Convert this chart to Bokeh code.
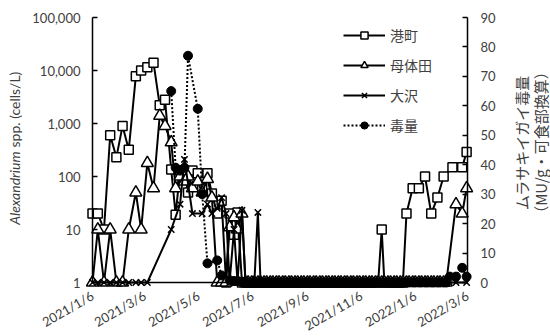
from math import pi

import pandas as pd
from bokeh.embed import file_html
from bokeh.models import (ColumnDataSource, FixedTicker, Label, Legend, LegendItem,
                          LinearAxis, LinearScale, NumeralTickFormatter, Range1d)
from bokeh.plotting import figure
from bokeh.resources import INLINE

# ---- data -------------------------------------------------------------------
# sampling dates shared by all series (None = no sample for that series)
dates = [
    "2021-01-06", "2021-01-12", "2021-01-19", "2021-01-26",
    "2021-02-02", "2021-02-09", "2021-02-16", "2021-02-24",
    "2021-03-02", "2021-03-09", "2021-03-16", "2021-03-23", "2021-03-29",
    "2021-04-05", "2021-04-10", "2021-04-15", "2021-04-20", "2021-04-24", "2021-04-29",
    "2021-05-05", "2021-05-10", "2021-05-16", "2021-05-21", "2021-05-27",
    "2021-06-01", "2021-06-06", "2021-06-10", "2021-06-15", "2021-06-19", "2021-06-24",
    "2021-06-28",
    "2021-07-01", "2021-07-05", "2021-07-08", "2021-07-12", "2021-07-15", "2021-07-19", "2021-07-22", "2021-07-26", "2021-07-29",
    "2021-08-02", "2021-08-05", "2021-08-09", "2021-08-12", "2021-08-16", "2021-08-19", "2021-08-23", "2021-08-26", "2021-08-30",
    "2021-09-02", "2021-09-06", "2021-09-09", "2021-09-13", "2021-09-16", "2021-09-20", "2021-09-23", "2021-09-27", "2021-09-30",
    "2021-10-04", "2021-10-07", "2021-10-11", "2021-10-14", "2021-10-18", "2021-10-21", "2021-10-25", "2021-10-28",
    "2021-11-01", "2021-11-04", "2021-11-08", "2021-11-11", "2021-11-15", "2021-11-18", "2021-11-22", "2021-11-25", "2021-11-29",
    "2021-12-02", "2021-12-06", "2021-12-09", "2021-12-13", "2021-12-16", "2021-12-20", "2021-12-23", "2021-12-27", "2021-12-30",
    "2022-01-03", "2022-01-06", "2022-01-10", "2022-01-13", "2022-01-17", "2022-01-20", "2022-01-24", "2022-01-27", "2022-01-31",
    "2022-02-03", "2022-02-07", "2022-02-10", "2022-02-14", "2022-02-17", "2022-02-21", "2022-02-24", "2022-02-28",
    "2022-03-05",
]

# Alexandrium cell density (cells/L)
minato = [
    20, 20, 10, 600,
    230, 900, 320, 7800,
    10000, 11500, 14000, 2200, 2800,
    135, 19, 130, 120, 50, 130,
    115, 60, 115, 48, 20,
    35, 1, 20, 8, 21, 1,
    1,
    1, 1, 1, 1, 1, 1, 1, 1, 1,
    1, 1, 1, 1, 1, 1, 1, 1, 1,
    1, 1, 1, 1, 1, 1, 1, 1, 1,
    1, 1, 1, 1, 1, 1, 1, 1,
    1, 1, 1, 1, 1, 1, 1, 1, 10,
    1, 1, 1, 1, 1, 1, 1, 20, None,
    60, None, 60, None, 100, None, 20, None, 40,
    None, 100, None, None, 150, None, None, 150,
    290,
]
botaida = [
    1, 10, 1, 10,
    1, 1, 10, 50,
    10, 180, 60, 1400, 900,
    440, 60, 100, 80, 100, 60,
    80, 50, 90, 40, 1,
    1, 1, 11, 17, 10, 20,
    1,
    1, 1, 1, 1, 1, 1, 1, 1, 1,
    1, 1, 1, 1, 1, 1, 1, 1, 1,
    1, 1, 1, 1, 1, 1, 1, 1, 1,
    1, 1, 1, 1, 1, 1, 1, 1,
    1, 1, 1, 1, 1, 1, 1, 1, 1,
    1, 1, 1, 1, 1, 1, 1, 1, 1,
    1, 1, 1, 1, 1, 1, 1, 1, 1,
    1, 1, 1, None, None, 30, None, 20,
    60,
]
osawa = [
    1, 1, 1, 1,
    1, 1, 1, 1,
    1, 1, None, None, None,
    10, None, 30, 210, None, 20,
    None, 20, 30, 20, 25,
    40, 20, 1, 10, 1, 23,
    1,
    1, 1, 1, 21, 1, 1, 1, 1, 1,
    1, 1, 1, 1, 1, 1, 1, 1, 1,
    1, 1, 1, 1, 1, 1, 1, 1, 1,
    1, 1, 1, 1, 1, 1, 1, 1,
    1, 1, 1, 1, 1, 1, 1, 1, 1,
    1, 1, 1, 1, 1, 1, 1, 1, 1,
    1, 1, 1, 1, 1, 1, 1, 1, 1,
    1, 1, 1, None, None, 1, None, None,
    1,
]
# mussel toxicity (MU/g, edible part)
toxin = [
    None, None, None, None,
    None, None, None, None,
    None, None, None, None, None,
    65, 39, 38, 39, 77, None,
    59, 30, 6.5, None, 7.5,
    2.4, None, 0.8, 0.5, 0.5, 0.3,
    0,
    0, 0, 0, 0, 0, 0, 0, 0, 0,
    0, 0, 0, 0, 0, 0, 0, 0, 0,
    0, 0, 0, 0, 0, 0, 0, 0, 0,
    0, 0, 0, 0, 0, 0, 0, 0,
    0, 0, 0, 0, 0, 0, 0, 0, 0,
    0, 0, 0, 0, 0, 0, 0, 0, 0,
    0, 0, 0, 0, 0, 0, 0, 0, 0,
    0, 0, 0, 2, None, 2, None, 5,
    2,
]

series_names = ["港町", "母体田", "大沢", "毒量"]
cell_ticks = [1, 10, 100, 1000, 10000, 100000]
toxin_ticks = [0, 10, 20, 30, 40, 50, 60, 70, 80, 90]
date_ticks = ["2021-01-06", "2021-03-06", "2021-05-06", "2021-07-06",
              "2021-09-06", "2021-11-06", "2022-01-06", "2022-03-06"]
date_tick_labels = ["2021/1/6", "2021/3/6", "2021/5/6", "2021/7/6",
                    "2021/9/6", "2021/11/6", "2022/1/6", "2022/3/6"]

# ---- layout -----------------------------------------------------------------
# The frame fills the whole canvas; the axes are pinned inside it with
# fixed_location so nothing near the axis box gets clipped.
W, H = 550, 336
AX_L, AX_R, AX_T, AX_B = 92, 467, 17, 282   # axis box on the canvas
TEXT = "#404040"
FONT = "Lato"
JP = "Noto Sans CJK JP"


def ms(d):
    return pd.Timestamp(d).value / 1e6


x0, x1 = ms(date_ticks[0]), ms(date_ticks[-1])
px_per_ms = (AX_R - AX_L) / (x1 - x0)
px_per_decade = (AX_B - AX_T) / 5.0
px_per_unit = (AX_B - AX_T) / 90.0

x_range = Range1d(x0 - AX_L / px_per_ms, x1 + (W - AX_R) / px_per_ms)
y_range = Range1d(10 ** (-(H - AX_B) / px_per_decade), 10 ** (5 + AX_T / px_per_decade))

p = figure(width=W, height=H, x_range=x_range, y_range=y_range,
           x_axis_type="datetime", y_axis_type="log",
           output_backend="svg", toolbar_location=None,
           min_border_left=0, min_border_right=0,
           min_border_top=0, min_border_bottom=0)
p.extra_y_ranges = {"toxin": Range1d(-(H - AX_B) / px_per_unit, 90 + AX_T / px_per_unit)}
p.extra_y_scales = {"toxin": LinearScale()}
p.outline_line_color = None
p.grid.visible = False
p.background_fill_color = "white"
p.border_fill_color = "white"


def source(values):
    xs, ys = [], []
    for d, v in zip(dates, values):
        if v is not None:
            xs.append(pd.Timestamp(d))
            ys.append(v)
    return ColumnDataSource(dict(x=xs, y=ys))


# ---- series -----------------------------------------------------------------
src = source(minato)
l_min = p.line("x", "y", source=src, line_color="black", line_width=2)
s_min = p.scatter("x", "y", source=src, marker="square", size=9,
                  fill_color="white", line_color="black", line_width=1.5)

src = source(botaida)
l_bot = p.line("x", "y", source=src, line_color="black", line_width=2)
s_bot = p.scatter("x", "y", source=src, marker="triangle", size=12,
                  fill_color="white", line_color="black", line_width=1.5)

src = source(osawa)
l_osa = p.line("x", "y", source=src, line_color="black", line_width=2)
s_osa = p.scatter("x", "y", source=src, marker="x", size=9,
                  line_color="black", line_width=1.5)

src = source(toxin)
l_tox = p.line("x", "y", source=src, y_range_name="toxin", line_color="black",
               line_width=2, line_dash="2 2")
s_tox = p.scatter("x", "y", source=src, y_range_name="toxin", marker="circle",
                  size=9, fill_color="black", line_color="black")

# ---- axes -------------------------------------------------------------------
xa = p.xaxis[0]
xa.fixed_location = 1
xa.bounds = (x0, x1)
xa.ticker = FixedTicker(ticks=[ms(d) for d in date_ticks])
xa.major_label_overrides = {ms(d): t for d, t in zip(date_ticks, date_tick_labels)}
xa.major_label_orientation = pi / 6
xa.major_tick_in = 0
xa.major_tick_out = 0
xa.minor_tick_line_color = None
xa.major_label_standoff = 12

ya = p.yaxis[0]
ya.fixed_location = x0
ya.bounds = (1, 100000)
ya.ticker = FixedTicker(ticks=cell_ticks)
ya.formatter = NumeralTickFormatter(format="0,0")
ya.major_tick_in = 5
ya.major_tick_out = 0
ya.minor_tick_line_color = None
ya.major_label_standoff = 12

ra = LinearAxis(y_range_name="toxin", ticker=FixedTicker(ticks=toxin_ticks),
                fixed_location=x1, bounds=(0, 90),
                major_tick_in=5, major_tick_out=0, major_label_standoff=13)
ra.minor_tick_line_color = None
p.add_layout(ra, "right")

for ax in (xa, ya, ra):
    ax.axis_line_color = "black"
    ax.axis_line_width = 1.5
    ax.major_tick_line_color = "black"
    ax.major_tick_line_width = 1.5
    ax.major_label_text_font = FONT
    ax.major_label_text_font_size = "13px"
    ax.major_label_text_color = TEXT

# ---- axis titles (screen units = canvas pixels, y from the bottom) ----------
title_kw = dict(x_units="screen", y_units="screen", angle=pi / 2,
                text_baseline="middle", text_color=TEXT)
p.add_layout(Label(x=14, y=H - 151, text="Alexandrium", text_align="right",
                   text_font=FONT, text_font_style="italic", text_font_size="14px",
                   **title_kw))
p.add_layout(Label(x=14, y=H - 147, text="spp. (cells/L)", text_align="left",
                   text_font=FONT, text_font_size="14px", **title_kw))
p.add_layout(Label(x=521, y=H - 142, text="ムラサキイガイ毒量", text_align="center",
                   text_font=JP, text_font_size="15px", **title_kw))
p.add_layout(Label(x=540, y=H - 142, text="（MU/g・可食部換算）", text_align="center",
                   text_font=JP, text_font_size="15px", **title_kw))

# ---- legend -----------------------------------------------------------------
legend = Legend(
    items=[LegendItem(label=series_names[0], renderers=[l_min, s_min]),
           LegendItem(label=series_names[1], renderers=[l_bot, s_bot]),
           LegendItem(label=series_names[2], renderers=[l_osa, s_osa]),
           LegendItem(label=series_names[3], renderers=[l_tox, s_tox])],
    location=(343, H - 135), orientation="vertical",
    glyph_width=42, glyph_height=18, label_height=18, spacing=10,
    label_standoff=5, padding=0, margin=0,
    border_line_color=None, background_fill_alpha=0,
    label_text_font=JP, label_text_font_size="14px", label_text_color=TEXT,
)
p.add_layout(legend)

open("out.html", "w").write(file_html(p, INLINE))
